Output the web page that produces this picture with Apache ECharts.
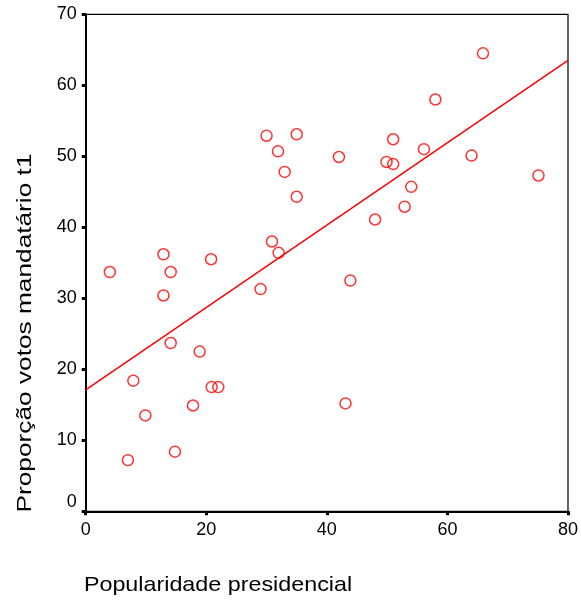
<!DOCTYPE html>
<html>
<head>
<meta charset="utf-8">
<script src="https://cdn.jsdelivr.net/npm/echarts@6/dist/echarts.min.js"></script>
<style>
  html, body { margin: 0; padding: 0; background: #fff; }
  #chart { width: 581px; height: 600px; }
</style>
</head>
<body>
<div id="chart"></div>
<script>
  // popularidade presidencial (x) vs proporção votos (y)
  const popularidade = [4.0, 7.0, 7.9, 9.9, 12.9, 12.9, 14.1, 14.1, 14.8, 17.8, 18.9, 20.8,
    20.9, 22.0, 29.0, 30.0, 30.9, 31.9, 32.0, 33.0, 35.0, 35.0, 42.0, 43.1, 43.9, 48.0,
    49.9, 51.0, 51.0, 52.9, 54.0, 56.1, 58.0, 64.0, 65.9, 75.1];
  const votos = [33.7, 7.2, 18.4, 13.5, 36.2, 30.4, 33.7, 23.7, 8.4, 14.9, 22.5, 35.5,
    17.5, 17.5, 31.3, 52.9, 38.0, 50.7, 36.4, 47.8, 53.1, 44.3, 49.9, 15.2, 32.5, 41.1,
    49.2, 52.4, 48.9, 42.9, 45.7, 51.0, 58.0, 50.1, 64.5, 47.3];

  // reta de regressão (extremos)
  const retaX = [0, 80];
  const retaY = [17.1, 63.5];

  const xTicks = [0, 20, 40, 60, 80];
  const yTicks = [0, 10, 20, 30, 40, 50, 60, 70];

  const xTitle = 'Popularidade presidencial';
  const yTitle = 'Proporção votos mandatário t1';

  const font = '"Liberation Sans", Arial, sans-serif';
  const chart = echarts.init(document.getElementById('chart'));

  chart.setOption({
    animation: false,
    backgroundColor: '#fff',
    grid: {
      left: 85.7, right: 10, top: 14.3, bottom: 88.7,
      show: true, borderColor: '#000', borderWidth: 1.2
    },
    // títulos dos eixos (o original vem esticado, daí o scaleX)
    graphic: [
      {
        type: 'text', x: 218, y: 585, scaleX: 1.11,
        style: { text: xTitle, font: '21px ' + font, fill: '#000', align: 'center', verticalAlign: 'middle' }
      },
      {
        type: 'text', x: 25, y: 333, rotation: Math.PI / 2, scaleX: 1.25,
        style: { text: yTitle, font: '21px ' + font, fill: '#000', align: 'center', verticalAlign: 'middle' }
      }
    ],
    xAxis: {
      type: 'value',
      min: xTicks[0], max: xTicks[xTicks.length - 1], interval: 20,
      axisLine: { lineStyle: { color: '#000', width: 2 } },
      axisTick: { length: 4, lineStyle: { color: '#000', width: 3 } },
      axisLabel: { fontFamily: font, fontSize: 18, color: '#000', margin: 10 },
      splitLine: { show: false }
    },
    yAxis: {
      type: 'value',
      min: yTicks[0], max: yTicks[yTicks.length - 1], interval: 10,
      axisLine: { lineStyle: { color: '#000', width: 2 } },
      axisTick: { length: 4, lineStyle: { color: '#000', width: 3 } },
      axisLabel: {
        fontFamily: font, fontSize: 18, color: '#000', margin: 9,
        formatter: v => v === 0 ? '{z|0}' : String(v),
        rich: { z: { fontFamily: font, fontSize: 18, color: '#000', padding: [0, 0, 18, 0] } }
      },
      splitLine: { show: false }
    },
    series: [
      {
        type: 'scatter',
        data: popularidade.map((x, i) => [x, votos[i]]),
        symbol: 'circle',
        symbolSize: 11,
        itemStyle: { color: 'rgba(0,0,0,0)', borderColor: '#ff0000', borderWidth: 1.5 }
      },
      {
        type: 'line',
        data: retaX.map((x, i) => [x, retaY[i]]),
        showSymbol: false,
        lineStyle: { color: '#ff0000', width: 1.5 }
      }
    ]
  });
</script>
</body>
</html>
